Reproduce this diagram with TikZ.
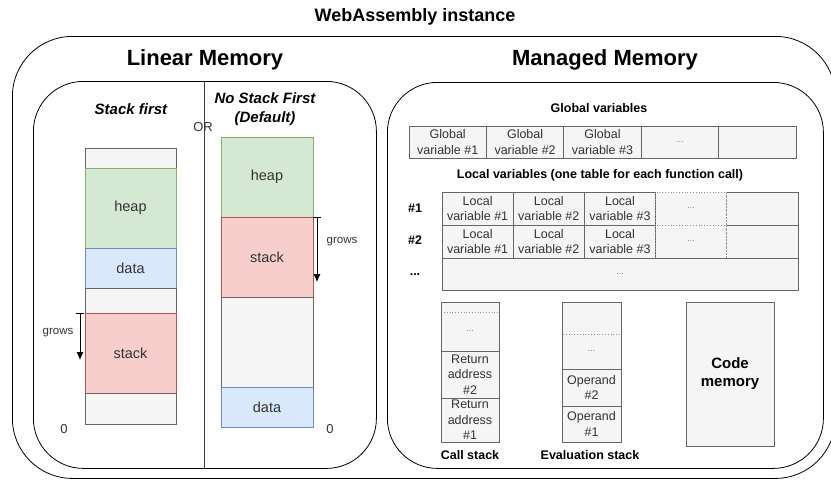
\documentclass[tikz,border=0pt]{standalone}
\usepackage{fontspec}
\setmainfont{Liberation Sans}
\usetikzlibrary{arrows.meta}
\definecolor{gfill}{HTML}{D5E8D4}\definecolor{gline}{HTML}{82B366}
\definecolor{bfill}{HTML}{DAE8FC}\definecolor{bline}{HTML}{6C8EBF}
\definecolor{rfill}{HTML}{F8CECC}\definecolor{rline}{HTML}{B85450}
\definecolor{kfill}{HTML}{F5F5F5}\definecolor{kline}{HTML}{666666}
\definecolor{ktext}{HTML}{333333}
\newcommand{\fs}[1]{\fontsize{#1}{1.2\dimexpr #1pt\relax}\selectfont}
\begin{document}
\begin{tikzpicture}[x=1pt,y=-1pt,
  blk/.style={draw, line width=0.8pt, inner sep=0pt, outer sep=0pt, anchor=north west, align=center},
  grn/.style={blk, fill=gfill, draw=gline, text=ktext, font=\fs{14.5}},
  blu/.style={blk, fill=bfill, draw=bline, text=ktext, font=\fs{14.5}},
  red/.style={blk, fill=rfill, draw=rline, text=ktext, font=\fs{14.5}},
  gry/.style={blk, fill=kfill, draw=kline, text=ktext, font=\fontsize{12.5}{15.5}\selectfont},
  dotc/.style={gry, draw=kline!70, dotted},
  frame/.style={draw, line width=0.8pt, inner sep=0pt, anchor=north west},
  hd/.style={font=\bfseries\fs{12.5}},
  growarrow/.style={line width=0.8pt, {Bar[width=8pt]}-{Latex[length=8pt,width=7pt]}}
]
\useasboundingbox (0,0) rectangle (831,480);
% frames
\node[frame, rounded corners=60pt, minimum width=823pt, minimum height=442pt] (outer) at (12,36) {};
\node[frame, rounded corners=50pt, minimum width=343pt, minimum height=387pt] (lin) at (33,81) {};
\node[frame, rounded corners=50pt, minimum width=436pt, minimum height=386pt] (man) at (387,82) {};
\coordinate (divt) at (204,81);
\coordinate (divb) at (204,468);
\draw[line width=0.8pt, draw=black!75] (divt) -- (divb);
% titles
\node[font=\bfseries\fs{18}] (title) at (415,17) {WebAssembly instance};
\node[font=\bfseries\fs{22}] (lmt) at (205,60) {Linear Memory};
\node[font=\bfseries\fs{22}] (mmt) at (605,60) {Managed Memory};
\node[font=\bfseries\itshape\fs{15}] (sf) at (131,109) {Stack first};
\node[font=\bfseries\itshape\fontsize{15}{19}\selectfont, align=center] (nsf) at (265,109) {No Stack First\\(Default)};
\node[font=\fs{13}, text=ktext] (or) at (203,127) {OR};
% left column
\node[gry, minimum width=91pt, minimum height=20pt] (l0) at (85,148) {};
\node[grn, minimum width=91pt, minimum height=80pt] (lheap) at (85,168) {heap};
\node[blu, minimum width=91pt, minimum height=40pt] (ldata) at (85,248) {data};
\node[gry, minimum width=91pt, minimum height=25pt] (lgap) at (85,288) {};
\node[red, minimum width=91pt, minimum height=80pt] (lstack) at (85,313) {stack};
\node[gry, minimum width=91pt, minimum height=31pt] (lbot) at (85,393) {};
\node[font=\fs{13}, text=ktext] (lzero) at (64,429) {0};
\coordinate (lg1) at (80,313);
\coordinate (lg2) at (80,360);
\draw[growarrow] (lg1) -- (lg2);
\node[font=\fs{11.5}, text=ktext] (lgrows) at (58,333) {grows};
% right column
\node[grn, minimum width=92pt, minimum height=80pt] (rheap) at (221,137) {heap};
\node[red, minimum width=92pt, minimum height=80pt] (rstack) at (221,217) {stack};
\node[gry, minimum width=92pt, minimum height=90pt] (rgap) at (221,297) {};
\node[blu, minimum width=92pt, minimum height=40pt] (rdata) at (221,387) {data};
\node[font=\fs{13}, text=ktext] (rzero) at (330,429) {0};
\coordinate (rg1) at (317,217);
\coordinate (rg2) at (317,282);
\draw[growarrow] (rg1) -- (rg2);
\node[font=\fs{11.5}, text=ktext] (rgrows) at (342,242) {grows};
% global variables
\node[hd] (gvt) at (599,108) {Global variables};
\foreach \i in {1,2,3}{
  \node[gry, minimum width=77.4pt, minimum height=32pt] (g\i) at ({409+77.4*(\i-1)},126) {Global\\variable \#\i};
}
\node[gry, minimum width=77.4pt, minimum height=32pt] (g4) at (641.2,126) {\textcolor{gray}{\fs{9}...}};
\node[gry, minimum width=77.4pt, minimum height=32pt] (g5) at (718.6,126) {};
% local variables
\node[hd] (lvt) at (600,175) {Local variables (one table for each function call)};
\foreach \r/\y in {1/192,2/225}{
  \foreach \i in {1,2,3}{
    \node[gry, minimum width=71.2pt, minimum height=33pt] (loc\r\i) at ({442+71.2*(\i-1)},\y) {Local\\variable \#\i};
  }
  \node[dotc, minimum width=71.2pt, minimum height=33pt] (loc\r4) at (655.6,\y) {\textcolor{gray}{\fs{9}...}};
  \node[dotc, minimum width=71.2pt, minimum height=33pt] (loc\r5) at (726.8,\y) {};
  \draw[line width=0.8pt, kline] (loc\r4.north east) -- (loc\r5.north east) -- (loc\r5.south east);
}
\node[gry, minimum width=356pt, minimum height=32pt] (loc3) at (442,258) {\textcolor{gray}{\fs{9}...}};
\node[hd] (n1) at (415,208) {\#1};
\node[hd] (n2) at (415,240) {\#2};
\node[hd] (n3) at (415,275) {...};
% call stack
\node[gry, minimum width=58pt, minimum height=10pt] (cs0) at (441,302) {};
\node[dotc, minimum width=58pt, minimum height=39pt] (cs1) at (441,312) {\textcolor{gray}{\fs{9}...}};
\node[gry, minimum width=58pt, minimum height=47pt] (cs2) at (441,351) {Return\\address\\\#2};
\node[gry, minimum width=58pt, minimum height=44pt] (cs3) at (441,398) {Return\\address\\\#1};
\draw[line width=0.8pt, kline] (cs0.south west) |- (cs0.north east) -- (cs0.south east);
\draw[line width=0.8pt, kline] (cs1.north west) -- (cs1.south west) (cs1.north east) -- (cs1.south east);
\node[hd] (cst) at (470,455) {Call stack};
% evaluation stack
\node[gry, minimum width=59pt, minimum height=32pt] (es0) at (562,302) {};
\node[dotc, minimum width=59pt, minimum height=35pt] (es1) at (562,334) {\textcolor{gray}{\fs{9}...}};
\node[gry, minimum width=59pt, minimum height=37pt] (es2) at (562,369) {Operand\\\#2};
\node[gry, minimum width=59pt, minimum height=36pt] (es3) at (562,406) {Operand\\\#1};
\draw[line width=0.8pt, kline] (es0.south west) |- (es0.north east) -- (es0.south east);
\draw[line width=0.8pt, kline] (es1.north west) -- (es1.south west) (es1.north east) -- (es1.south east);
\node[hd] (est) at (590,455) {Evaluation stack};
% code memory
\node[gry, minimum width=88pt, minimum height=144pt, font=\bfseries\fontsize{15}{18}\selectfont, text=black] (code) at (686,302) {Code\\memory};
\end{tikzpicture}
\end{document}
